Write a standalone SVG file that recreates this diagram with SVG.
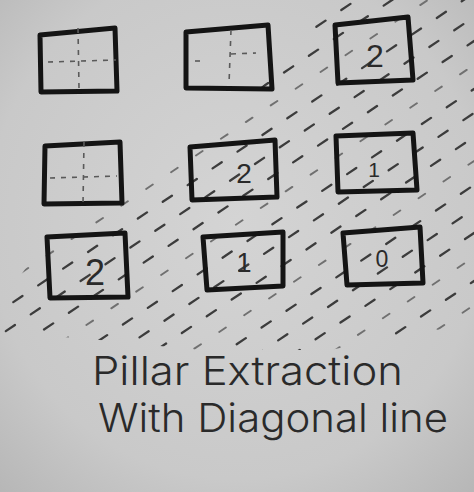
<svg xmlns="http://www.w3.org/2000/svg" width="474" height="492" viewBox="0 0 474 492">
  <defs>
    <radialGradient id="paper" cx="0.5" cy="0.45" r="0.75">
      <stop offset="0" stop-color="#d4d4d4"/>
      <stop offset="0.7" stop-color="#c9c9c9"/>
      <stop offset="1" stop-color="#b6b6b6"/>
    </radialGradient>
    <clipPath id="band">
      <polygon points="0,305 30,262 125,200 190,146 235,113 285,63 318,18 330,0 474,0 474,325 420,332 330,350 200,350 80,338 0,334"/>
    </clipPath>
  </defs>
  <style>
    .box { fill: none; stroke: #141414; stroke-width: 5; stroke-linejoin: round; stroke-linecap: round; }
    .cross { stroke: #5a5a5a; stroke-width: 1.6; stroke-dasharray: 5 6; fill: none; }
    .h { stroke: #3c3c3c; stroke-width: 2.3; stroke-linecap: round; stroke-dasharray: 11 19; fill: none; }
    .h2 { stroke: #707070; stroke-width: 1.9; stroke-linecap: round; stroke-dasharray: 8 22; fill: none; }
    .num { font-family: "Liberation Sans", "DejaVu Sans", sans-serif; font-weight: 400; fill: #2a2a2a; text-anchor: middle; }
    .title { font-family: Inter, "Liberation Sans", sans-serif; font-weight: 300; fill: #2a2a2a; font-size: 40px; }
  </style>
  <rect width="474" height="492" fill="url(#paper)"/>

  <g id="hatching" clip-path="url(#band)">
    <line class="h2" x1="0" y1="215" x2="474" y2="-103" stroke-dashoffset="0"/>
    <line class="h" x1="0" y1="239" x2="474" y2="-79" stroke-dashoffset="9"/>
    <line class="h" x1="0" y1="263" x2="474" y2="-55" stroke-dashoffset="18"/>
    <line class="h2" x1="0" y1="287" x2="474" y2="-31" stroke-dashoffset="4"/>
    <line class="h" x1="0" y1="311" x2="474" y2="-7" stroke-dashoffset="14"/>
    <line class="h" x1="0" y1="335" x2="474" y2="17" stroke-dashoffset="23"/>
    <line class="h" x1="0" y1="359" x2="474" y2="41" stroke-dashoffset="7"/>
    <line class="h2" x1="0" y1="383" x2="474" y2="65" stroke-dashoffset="16"/>
    <line class="h" x1="0" y1="407" x2="474" y2="89" stroke-dashoffset="2"/>
    <line class="h" x1="0" y1="431" x2="474" y2="113" stroke-dashoffset="12"/>
    <line class="h" x1="0" y1="455" x2="474" y2="137" stroke-dashoffset="21"/>
    <line class="h2" x1="0" y1="479" x2="474" y2="161" stroke-dashoffset="6"/>
    <line class="h" x1="0" y1="503" x2="474" y2="185" stroke-dashoffset="15"/>
    <line class="h" x1="0" y1="527" x2="474" y2="209" stroke-dashoffset="25"/>
    <line class="h" x1="0" y1="551" x2="474" y2="233" stroke-dashoffset="10"/>
    <line class="h2" x1="0" y1="575" x2="474" y2="257" stroke-dashoffset="19"/>
    <line class="h" x1="0" y1="599" x2="474" y2="281" stroke-dashoffset="3"/>
    <line class="h2" x1="0" y1="623" x2="474" y2="305" stroke-dashoffset="13"/>
    <line class="h2" x1="0" y1="647" x2="474" y2="329" stroke-dashoffset="22"/>
    <line class="h2" x1="0" y1="671" x2="474" y2="353" stroke-dashoffset="8"/>
  </g>

  <g id="box-1-1">
    <polygon class="box" points="40,35 115,28 117,91 41,92"/>
    <line class="cross" x1="78" y1="28" x2="79" y2="88"/>
    <line class="cross" x1="48" y1="62" x2="116" y2="60" stroke-dasharray="9 17"/>
  </g>
  <g id="box-1-2">
    <polygon class="box" points="186,32 268,25 272,89 186,88"/>
    <line class="cross" x1="231" y1="30" x2="229" y2="84"/>
    <line class="cross" x1="195" y1="61" x2="205" y2="61" stroke-dasharray="none"/>
    <line class="cross" x1="231" y1="54" x2="256" y2="53" stroke-dasharray="8 6"/>
  </g>
  <g id="box-1-3">
    <polygon class="box" points="335,25 408,17 413,80 338,83"/>
    <text class="num" x="375" y="67" font-size="32">2</text>
  </g>

  <g id="box-2-1">
    <polygon class="box" points="45,146 120,142 122,203 44,204"/>
    <line class="cross" x1="84" y1="142" x2="83" y2="204"/>
    <line class="cross" x1="50" y1="178" x2="117" y2="176"/>
  </g>
  <g id="box-2-2">
    <polygon class="box" points="190,147 275,140 277,197 192,200"/>
    <text class="num" x="244" y="183" font-size="28">2</text>
  </g>
  <g id="box-2-3">
    <polygon class="box" points="336,136 413,133 417,190 338,192"/>
    <text class="num" x="374" y="177" font-size="21">1</text>
  </g>

  <g id="box-3-1">
    <polygon class="box" points="47,237 125,233 128,297 50,298"/>
    <text class="num" x="95" y="285" font-size="36">2</text>
  </g>
  <g id="box-3-2">
    <polygon class="box" points="203,237 283,232 283,286 207,290"/>
    <text class="num" x="244" y="272" font-size="27">1</text>
  </g>
  <g id="box-3-3">
    <polygon class="box" points="343,233 420,227 423,283 347,285"/>
    <text class="num" x="382" y="267" font-size="23">0</text>
  </g>

  <g id="caption">
    <text class="title" x="92" y="385" textLength="311" lengthAdjust="spacingAndGlyphs">Pillar Extraction</text>
    <text class="title" x="98" y="432" textLength="350" lengthAdjust="spacingAndGlyphs">With Diagonal line</text>
  </g>
</svg>
